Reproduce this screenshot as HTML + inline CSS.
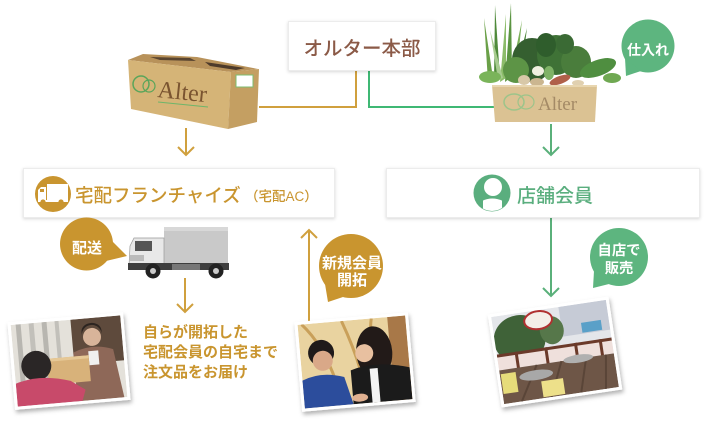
<!DOCTYPE html>
<html><head><meta charset="utf-8">
<style>
html,body{margin:0;padding:0;background:#fff;}
body{width:710px;height:425px;position:relative;overflow:hidden;font-family:"Liberation Sans","Noto Sans CJK JP",sans-serif;}
svg{position:absolute;left:0;top:0;}
text{font-family:"Liberation Sans","Noto Sans CJK JP",sans-serif;}
text.serif{font-family:"Liberation Serif","DejaVu Serif",serif;}
</style></head><body>
<svg width="710" height="425" viewBox="0 0 710 425" xmlns="http://www.w3.org/2000/svg">
<defs>
<filter id="sh" x="-10%" y="-30%" width="120%" height="160%"><feDropShadow dx="0" dy="1" stdDeviation="1.6" flood-color="#000" flood-opacity="0.16"/></filter>
<filter id="psh" x="-15%" y="-15%" width="130%" height="140%"><feDropShadow dx="1" dy="3" stdDeviation="2" flood-color="#000" flood-opacity="0.3"/></filter>
<clipPath id="c1"><rect x="-55" y="-41" width="110" height="82"/></clipPath>
<clipPath id="c2"><rect x="-54" y="-42" width="108" height="84"/></clipPath>
<clipPath id="c3"><rect x="-58" y="-44" width="116" height="88"/></clipPath>
<clipPath id="ic"><circle cx="492" cy="193" r="18"/></clipPath>
</defs>

<!-- connector lines -->
<g fill="none" stroke-width="2">
<path d="M356,71 V107 H259" stroke="#d0a03e"/>
<path d="M369,71 V107 H494" stroke="#3fb874"/>
<path d="M186,128 V154 M178,147 L186,155 L194,147" stroke="#d0a03e"/>
<path d="M551,124 V154 M543,147 L551,155 L559,147" stroke="#5ab07a"/>
<path d="M551,218 V295 M543,288 L551,296 L559,288" stroke="#5ab07a"/>
<path d="M185,278 V311 M177,304 L185,312 L193,304" stroke="#d0a03e"/>
<path d="M309,321 V231 M301,238 L309,230 L317,238" stroke="#d0a03e"/>
</g>

<!-- boxes -->
<rect x="288.5" y="21.5" width="147" height="49" fill="#fff" stroke="#ececec" filter="url(#sh)"/>
<rect x="23.5" y="168.5" width="311" height="49" fill="#fff" stroke="#ececec" filter="url(#sh)"/>
<rect x="386.5" y="168.5" width="313" height="49" fill="#fff" stroke="#ececec" filter="url(#sh)"/>

<text x="362" y="55" text-anchor="middle" font-size="19.5" font-weight="500" fill="#8b5a47">オルター本部</text>
<text x="75" y="202" font-size="18.5" font-weight="500" fill="#c9952f">宅配フランチャイズ</text>
<text x="245" y="201" font-size="13.5" font-weight="500" fill="#c9952f">（宅配AC）</text>
<text x="517" y="202" font-size="19" font-weight="500" fill="#5aae7e">店舗会員</text>

<!-- truck icon -->
<circle cx="53" cy="194" r="18" fill="#c9952f"/>
<rect x="47" y="184" width="21" height="16" fill="#fff"/>
<path d="M38,190 L41,187 L46,187 L46,201 L38,201 Z" fill="#fff"/>
<rect x="38" y="200" width="30" height="2" fill="#fff"/>
<circle cx="43" cy="202" r="2.6" fill="#c9952f"/><circle cx="61" cy="202" r="2.6" fill="#c9952f"/>
<rect x="40" y="189" width="4" height="3" fill="#c9952f"/>

<!-- person icon -->
<circle cx="492" cy="193" r="18.5" fill="#5aae7e"/>
<g clip-path="url(#ic)">
<circle cx="493" cy="187" r="9" fill="#fff"/>
<path d="M482,201 Q492,196 503,201 L503,215 L482,215 Z" fill="#fff"/>
<rect x="480" y="198" width="3" height="18" fill="#5aae7e"/>
<rect x="502" y="198" width="3" height="18" fill="#5aae7e"/>
</g>

<!-- cardboard box -->
<path d="M128,60 L143,54 L197,57 L258,69 L231,72 Z" fill="#b8925a"/>
<path d="M150,57 L190,58 L196,61 L160,60 Z" fill="#5a4530"/>
<path d="M205,62 L245,68 L236,70 L210,66 Z" fill="#4d3a2a"/>
<path d="M128,60 L231,72 L228,129 L131,109 Z" fill="#d5b477"/>
<path d="M231,72 L259,69 L257,122 L228,129 Z" fill="#c49f62"/>
<rect x="236" y="75" width="17" height="12" fill="#fff" stroke="#7cbc70" stroke-width="1"/>
<circle cx="141" cy="84" r="8" fill="none" stroke="#5aa55a" stroke-width="1.5"/>
<circle cx="149" cy="86" r="6" fill="none" stroke="#5aa55a" stroke-width="1.2"/>
<text class="serif" x="157" y="97" font-size="24" fill="#7a5430" transform="rotate(6 157 97)">Alter</text>
<line x1="158" y1="102" x2="208" y2="107" stroke="#6db56a" stroke-width="1"/>

<!-- vegetables -->
<g>
<path d="M488,82 L484,18 L493,78 Z" fill="#6aa048"/>
<path d="M494,82 L495,5 L500,78 Z" fill="#4f8a3a"/>
<path d="M500,82 L506,14 L506,78 Z" fill="#8cbc6a"/>
<path d="M505,82 L511,3 L512,76 Z" fill="#5a9440"/>
<path d="M510,78 L522,20 L516,78 Z" fill="#7cb05a"/>
<path d="M515,75 L527,28 L521,76 Z" fill="#4a8238"/>
<path d="M498,80 L490,30 L503,78 Z" fill="#a8cc90"/>
<ellipse cx="532" cy="60" rx="20" ry="22" fill="#355f30"/>
<ellipse cx="556" cy="55" rx="19" ry="20" fill="#3f7236"/>
<ellipse cx="576" cy="62" rx="15" ry="16" fill="#4a7d3c"/>
<ellipse cx="516" cy="70" rx="13" ry="13" fill="#5d9446"/>
<ellipse cx="546" cy="45" rx="10" ry="12" fill="#2f5d2c"/>
<ellipse cx="565" cy="44" rx="9" ry="10" fill="#3a6a34"/>
<ellipse cx="598" cy="68" rx="19" ry="8" fill="#4f8e40" transform="rotate(-20 598 68)"/>
<ellipse cx="612" cy="78" rx="9" ry="5" fill="#6fa852"/>
<ellipse cx="490" cy="77" rx="11" ry="6" fill="#7ab45a"/>
<ellipse cx="524" cy="80" rx="6" ry="5" fill="#d8c8a8"/>
<ellipse cx="537" cy="82" rx="7" ry="4" fill="#cbb690"/>
<ellipse cx="538" cy="71" rx="6" ry="5" fill="#f0f0e0"/>
<ellipse cx="560" cy="80" rx="11" ry="4" fill="#b0604a" transform="rotate(-20 560 80)"/>
<ellipse cx="578" cy="83" rx="6" ry="3" fill="#e0d0b0"/>
<ellipse cx="549" cy="73" rx="5" ry="7" fill="#7fb266"/>
</g>
<path d="M492,85 L597,85 L595,122 L495,122 Z" fill="#dbc293"/>
<line x1="492" y1="86" x2="597" y2="86" stroke="#e8d6b0" stroke-width="2"/>
<ellipse cx="514" cy="102" rx="10" ry="8" fill="none" stroke="#9cc48a" stroke-width="1.5"/>
<ellipse cx="526" cy="102" rx="8" ry="7" fill="none" stroke="#9cc48a" stroke-width="1.2"/>
<text class="serif" x="538" y="110" font-size="19" fill="#a48a66">Alter</text>

<!-- truck -->
<rect x="164" y="227" width="64" height="38" fill="#c9c9c9"/>
<rect x="164" y="227" width="64" height="4" fill="#d8d8d8"/>
<path d="M130,246 L134,238 L164,238 L164,266 L129,266 Z" fill="#e8e8e8" stroke="#999" stroke-width="0.7"/>
<rect x="135" y="241" width="17" height="10" fill="#555"/>
<rect x="130" y="255" width="14" height="6" fill="#bbb"/>
<rect x="128" y="263" width="101" height="7" fill="#3e3e3e"/>
<rect x="172" y="264" width="28" height="6" fill="#777"/>
<circle cx="153" cy="271" r="7.5" fill="#222"/><circle cx="153" cy="271" r="3" fill="#ccc"/>
<circle cx="216" cy="271" r="7.5" fill="#222"/><circle cx="216" cy="271" r="3" fill="#ccc"/>

<!-- bubbles -->
<g fill="#5db57f">
<circle cx="648" cy="46" r="26.5"/>
<path d="M641,71 L626,76 L625,58 Z"/>
<circle cx="619" cy="257" r="29"/>
<path d="M609,284 L593,288 L594,271 Z"/>
</g>
<g fill="#c9952f">
<circle cx="86.5" cy="244" r="26.5"/>
<path d="M112,241 L127,256 L106,261 Z"/>
<circle cx="351" cy="266" r="32"/>
<path d="M343,297 L328,302 L325,284 Z"/>
</g>
<g fill="#fff" font-weight="bold" text-anchor="middle">
<text x="648" y="55" font-size="14">仕入れ</text>
<text x="619" y="255" font-size="14.3">自店で</text>
<text x="619" y="273" font-size="14.3">販売</text>
<text x="87" y="253" font-size="15">配送</text>
<text x="352" y="268" font-size="15">新規会員</text>
<text x="352" y="285" font-size="15">開拓</text>
</g>

<!-- bottom text -->
<g fill="#c9952f" font-size="15" font-weight="bold">
<text x="143" y="337">自らが開拓した</text>
<text x="143" y="357">宅配会員の自宅まで</text>
<text x="143" y="377">注文品をお届け</text>
</g>

<!-- photo 1 -->
<g transform="translate(69,361) rotate(-5)">
<rect x="-58" y="-44" width="116" height="88" fill="#fff" filter="url(#psh)"/>
<g clip-path="url(#c1)">
<rect x="-55" y="-41" width="110" height="82" fill="#e4e1da"/>
<rect x="-50" y="-41" width="5" height="60" fill="#b8b6b0"/>
<rect x="-37" y="-41" width="5" height="60" fill="#c2c0ba"/>
<rect x="-24" y="-41" width="5" height="60" fill="#b8b6b0"/>
<rect x="-11" y="-41" width="4" height="60" fill="#c2c0ba"/>
<rect x="5" y="-41" width="50" height="45" fill="#5e4a3c"/>
<circle cx="25" cy="-22" r="9" fill="#d8b49a"/>
<path d="M15,-24 A10,10 0 0 1 35,-24 L35,-28 A10,8 0 0 0 15,-28 Z" fill="#2c2420"/>
<path d="M5,-8 Q25,-16 45,-8 L52,41 L5,41 Z" fill="#8e6858"/>
<rect x="20" y="-8" width="10" height="14" fill="#f0f0f0"/>
<rect x="-22" y="-4" width="42" height="26" fill="#d8b27a"/>
<rect x="-22" y="-4" width="42" height="3" fill="#e6c896"/>
<circle cx="-33" cy="2" r="15" fill="#2a2626"/>
<path d="M-55,18 Q-30,10 0,20 L14,30 L10,41 L-55,41 Z" fill="#c84a6a"/>
</g>
</g>

<!-- photo 2 -->
<g transform="translate(355,362) rotate(-5)">
<rect x="-57" y="-45" width="114" height="90" fill="#fff" filter="url(#psh)"/>
<g clip-path="url(#c2)">
<rect x="-54" y="-42" width="108" height="84" fill="#e9d3a0"/>
<path d="M-50,-42 Q-30,-20 -20,20 M-10,-42 Q0,-15 5,10 M20,-42 Q15,-20 25,0" stroke="#c9a05a" stroke-width="3" fill="none"/>
<rect x="36" y="-42" width="18" height="84" fill="#a87848"/>
<circle cx="-33" cy="-12" r="13" fill="#1f1a1a"/>
<circle cx="-32" cy="-4" r="10" fill="#d9a888"/>
<path d="M-54,14 Q-35,6 -12,14 L-5,42 L-54,42 Z" fill="#2c4d9c"/>
<ellipse cx="20" cy="-8" rx="18" ry="26" fill="#221a18"/>
<circle cx="10" cy="-8" r="9" fill="#e8c0a0"/>
<path d="M-5,8 Q20,0 54,10 L54,42 L-5,42 Z" fill="#1b1b1b"/>
<rect x="14" y="8" width="8" height="34" fill="#f4f4f4"/>
<ellipse cx="2" cy="36" rx="8" ry="4" fill="#e0b090"/>
</g>
</g>

<!-- photo 3 -->
<g transform="translate(555,352) rotate(-8.5)">
<rect x="-61" y="-47" width="122" height="94" fill="#fff" filter="url(#psh)"/>
<g clip-path="url(#c3)">
<rect x="-58" y="-44" width="116" height="88" fill="#e4e6ea"/>
<rect x="10" y="-44" width="48" height="30" fill="#c6cbd6"/>
<rect x="30" y="-25" width="20" height="10" fill="#5aa0c8"/>
<ellipse cx="-33" cy="-18" rx="26" ry="24" fill="#3f6238"/>
<ellipse cx="0" cy="-22" rx="12" ry="14" fill="#56774a"/>
<rect x="-58" y="-4" width="116" height="14" fill="#efe0dc"/>
<rect x="-58" y="-6" width="116" height="3" fill="#6b3a2a"/>
<rect x="-40" y="-6" width="3" height="18" fill="#6b3a2a"/>
<rect x="-10" y="-6" width="3" height="18" fill="#6b3a2a"/>
<rect x="20" y="-6" width="3" height="18" fill="#6b3a2a"/>
<rect x="45" y="-6" width="3" height="18" fill="#6b3a2a"/>
<path d="M-58,10 L58,10 L58,44 L-58,44 Z" fill="#6e5647"/>
<path d="M-40,44 L-20,10 M-10,44 L5,10 M20,44 L30,10 M45,44 L50,10" stroke="#5a4538" stroke-width="2"/>
<ellipse cx="-22" cy="20" rx="17" ry="5" fill="#a8a8a8"/>
<ellipse cx="22" cy="10" rx="15" ry="4" fill="#b0b0b0"/>
<rect x="-57" y="14" width="15" height="20" fill="#e6dc7a"/>
<rect x="-18" y="27" width="22" height="16" fill="#ede08a"/>
<ellipse cx="-12" cy="-34" rx="14" ry="9" fill="#f4eee8" stroke="#b03030" stroke-width="2"/>
</g>
</g>
</svg>
</body></html>
